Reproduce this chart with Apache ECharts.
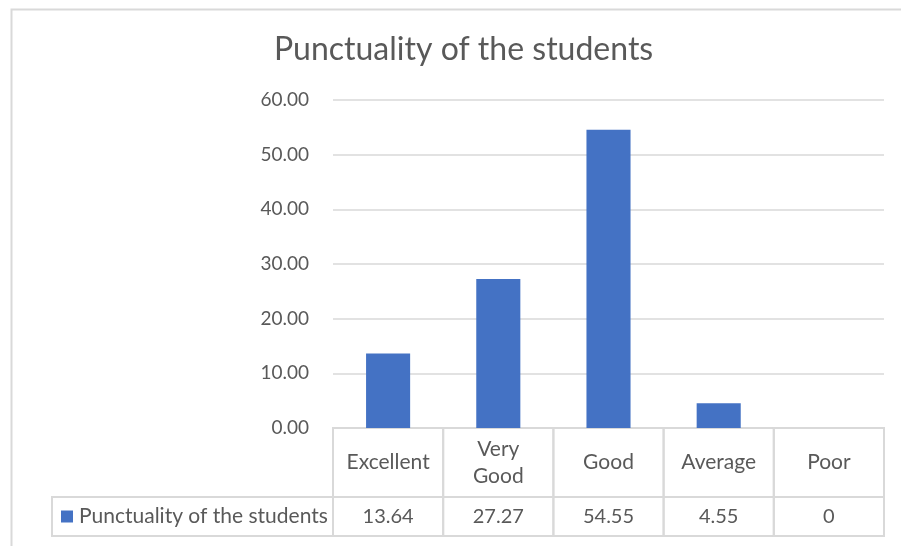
<!DOCTYPE html>
<html lang="en">
<head>
	<meta charset="UTF-8">
	<title>Punctuality of the students</title>
	<script src="https://cdn.jsdelivr.net/npm/echarts@6/dist/echarts.min.js"></script>
	<style>
		html, body { margin: 0; padding: 0; background: #fff; }
	</style>
</head>
<body>
<div id="chart" style="width:901px;height:546px;"></div>
<script>
// data
var categories = ['Excellent', 'Very Good', 'Good', 'Average', 'Poor'];
var headerLabels = ['Excellent', 'Very\nGood', 'Good', 'Average', 'Poor'];
var values = [13.64, 27.27, 54.55, 4.55, 0];
var seriesName = 'Punctuality of the students';
var yTicks = [0, 10, 20, 30, 40, 50, 60];

var FONT = 'Lato';
var TXT = '#595959';
var LINE = '#d9d9d9';
var BLUE = '#4472c4';

var myChart = echarts.init(document.getElementById('chart'));

// draws one table cell per category, sized by the category axis
function cellRenderer(getText, fontSize, withLegend) {
	return function (params, api) {
		var i = params.dataIndex;
		var c = api.coord([api.value(0), 0.5]);
		var s = api.size([1, 1]);
		var x0 = c[0] - s[0] / 2, y0 = c[1] - s[1] / 2;
		var kids = [{
			type: 'rect',
			shape: { x: x0, y: y0, width: s[0], height: s[1] },
			style: { fill: 'none', stroke: LINE, lineWidth: 2 }
		}, {
			type: 'text',
			style: {
				text: getText(i), x: c[0], y: c[1],
				align: 'center', verticalAlign: 'middle',
				font: fontSize + 'px ' + FONT, fill: TXT, lineHeight: 27
			}
		}];
		if (withLegend && i === 0) {
			var lx = 52;
			kids.push({
				type: 'rect',
				shape: { x: lx, y: y0, width: x0 - lx, height: s[1] },
				style: { fill: 'none', stroke: LINE, lineWidth: 2 }
			}, {
				type: 'rect',
				shape: { x: 61, y: c[1] - 6, width: 12, height: 12 },
				style: { fill: BLUE }
			}, {
				type: 'text',
				style: {
					text: seriesName, x: 79, y: c[1],
					align: 'left', verticalAlign: 'middle',
					font: '21px ' + FONT, fill: TXT
				}
			});
		}
		return { type: 'group', children: kids };
	};
}

var idxData = categories.map(function (c, i) { return [i, 0.5]; });

var option = {
	animation: false,
	textStyle: { fontFamily: FONT },
	title: {
		text: 'Punctuality of the students',
		left: 269, top: 29,
		textStyle: { fontFamily: FONT, fontSize: 32, fontWeight: 'normal', color: TXT }
	},
	graphic: [{
		type: 'rect', left: 9, top: 7,
		shape: { width: 910, height: 560 },
		style: { fill: 'none', stroke: LINE, lineWidth: 2 }
	}],
	grid: [
		{ left: 333, right: 17, top: 100, height: 328 },
		{ left: 333, right: 17, top: 428, height: 69 },
		{ left: 333, right: 17, top: 497, height: 39 }
	],
	xAxis: [
		{ gridIndex: 0, type: 'category', data: categories,
			axisLine: { lineStyle: { color: LINE, width: 1.5 } },
			axisTick: { show: false }, axisLabel: { show: false } },
		{ gridIndex: 1, type: 'category', data: categories, show: false },
		{ gridIndex: 2, type: 'category', data: categories, show: false }
	],
	yAxis: [
		{ gridIndex: 0, type: 'value', min: yTicks[0], max: yTicks[yTicks.length - 1], interval: 10,
			axisLine: { show: false }, axisTick: { show: false },
			axisLabel: { color: TXT, fontSize: 19, fontFamily: FONT, margin: 24,
				formatter: function (v) { return v.toFixed(2); } },
			splitLine: { lineStyle: { color: LINE, width: 1.5 } } },
		{ gridIndex: 1, type: 'value', min: 0, max: 1, show: false },
		{ gridIndex: 2, type: 'value', min: 0, max: 1, show: false }
	],
	series: [
		{
			name: seriesName, type: 'bar', data: values,
			xAxisIndex: 0, yAxisIndex: 0,
			barWidth: '40%',
			itemStyle: { color: BLUE }
		},
		{
			type: 'custom', xAxisIndex: 1, yAxisIndex: 1, data: idxData,
			renderItem: cellRenderer(function (i) { return headerLabels[i]; }, 21, false)
		},
		{
			type: 'custom', xAxisIndex: 2, yAxisIndex: 2, data: idxData,
			renderItem: cellRenderer(function (i) { return String(values[i]); }, 20, true)
		}
	]
};
myChart.setOption(option);
</script>
</body>
</html>
